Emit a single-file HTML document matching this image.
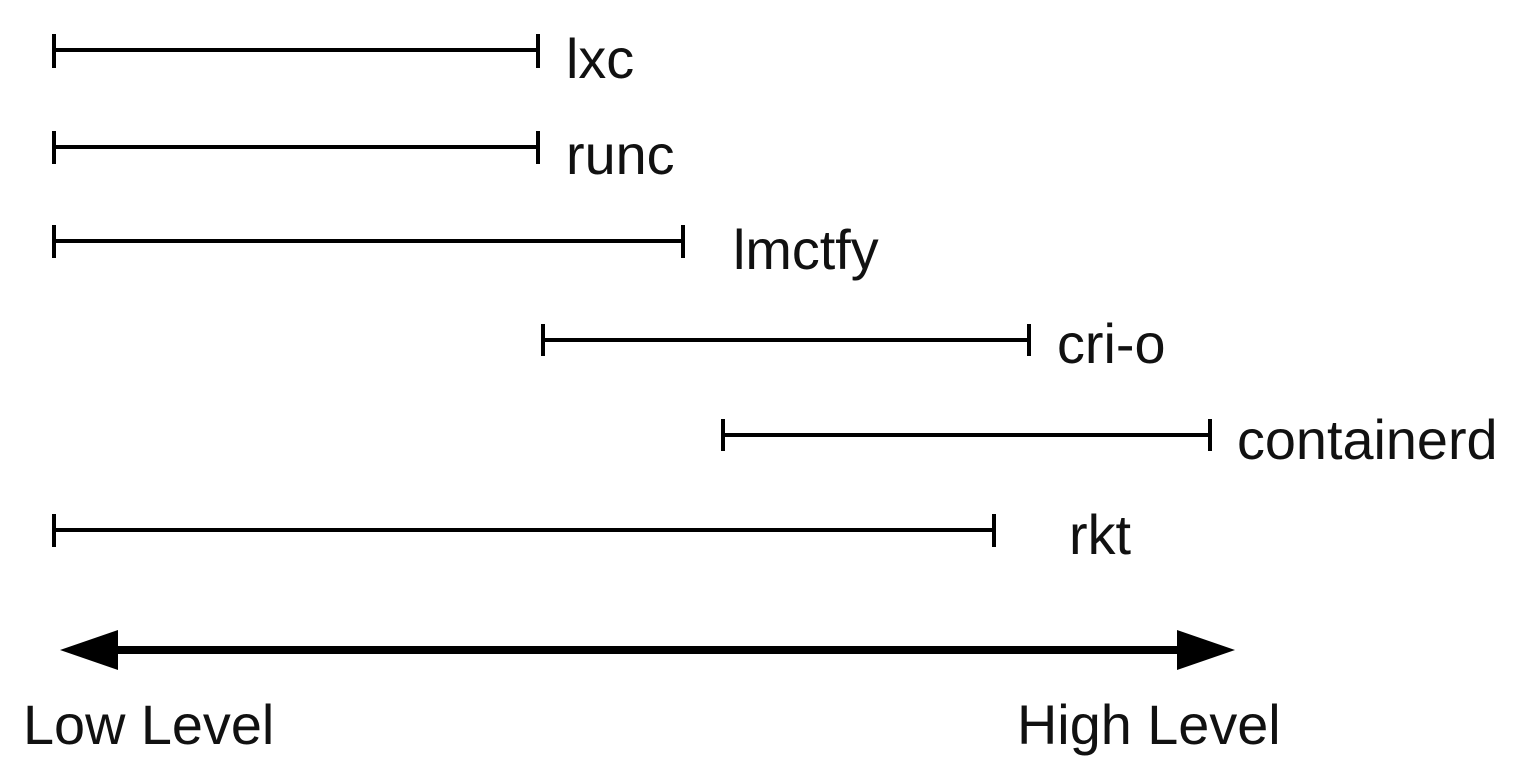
<!DOCTYPE html>
<html><head><style>html,body{margin:0;padding:0;background:#fff;}</style></head>
<body>
<svg width="1534" height="782" xmlns="http://www.w3.org/2000/svg" style="display:block">
<g stroke="#000" stroke-width="4" fill="none">
<path d="M54 50H538M54 34V68M538 34V68"/>
<path d="M54 147H538M54 131V164M538 131V164"/>
<path d="M54 241H683M54 225V258M683 225V258"/>
<path d="M543 340H1029M543 324V356M1029 324V356"/>
<path d="M723 435H1210M723 419V451M1210 419V451"/>
<path d="M54 530H994M54 514V547M994 514V547"/>
<path d="M115 650H1180" stroke-width="8"/>
</g>
<polygon points="60,650 118,630 118,670" fill="#000"/>
<polygon points="1235,650 1177,630 1177,670" fill="#000"/>
<g font-family="Liberation Sans, sans-serif" font-size="55.8" fill="#111">
<text x="566" y="78">lxc</text>
<text x="566" y="174">runc</text>
<text x="733" y="269">lmctfy</text>
<text x="1057" y="363">cri-o</text>
<text x="1237" y="459">containerd</text>
<text x="1069" y="554">rkt</text>
<text x="23" y="744">Low Level</text>
<text x="1017" y="744">High Level</text>
</g>
</svg>
</body></html>
